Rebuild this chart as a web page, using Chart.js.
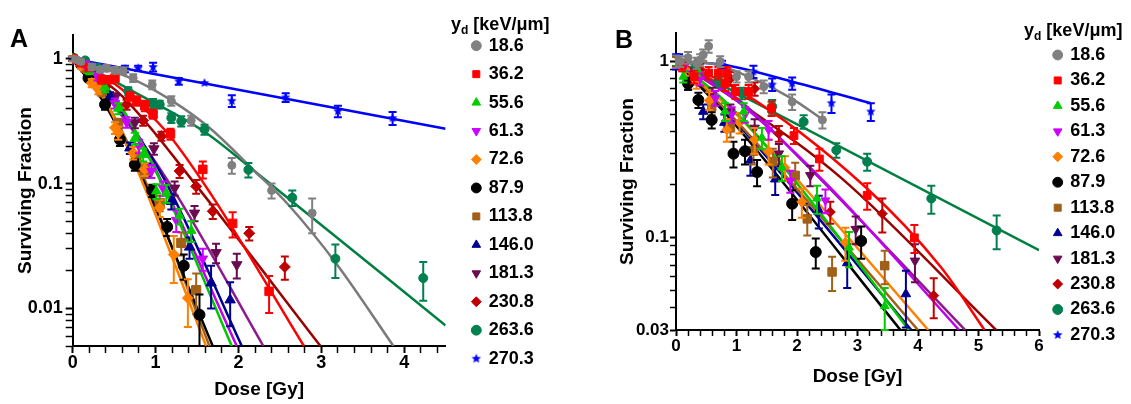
<!DOCTYPE html>
<html lang="en">
<head>
<meta charset="UTF-8">
<title>Surviving fraction vs dose</title>
<script src="https://cdn.jsdelivr.net/npm/chart.js"></script>
<style>
  body { margin: 0; background: #fff; }
  #wrap { position: relative; width: 1131px; height: 404px; background: #fff; font-family: 'Liberation Sans', Arial, sans-serif; font-weight: bold; color: #000; }
  canvas { position: absolute; top: 0; }
  .panel { position: absolute; font-size: 25px; line-height: 25px; }
  .ytitle { position: absolute; font-size: 18px; line-height: 18px; white-space: nowrap; }
  .ytitle sub { font-size: 12px; line-height: 0; vertical-align: -4px; }
</style>
</head>
<body>
<div id="wrap">
  <canvas id="chartA" width="560" height="404" style="left:0"></canvas>
  <canvas id="chartB" width="551" height="404" style="left:580px"></canvas>
  <div class="panel" style="left:10px;top:26px">A</div>
  <div class="panel" style="left:615px;top:27px">B</div>
  <div class="ytitle" style="left:451px;top:15px">y<sub>d</sub> [keV/μm]</div>
  <div class="ytitle" style="left:1024px;top:21px">y<sub>d</sub> [keV/μm]</div>
</div>

<script>
// lineal energy of each series (legend)
const ydLabels = ['18.6', '36.2', '55.6', '61.3', '72.6', '87.9', '113.8', '146.0', '181.3', '230.8', '263.6', '270.3'];
const markerColors = ['#808080', '#ff0000', '#00cc00', '#cc00ff', '#ff8000', '#000000', '#a0601a', '#000090', '#6a0a50', '#c00000', '#00804f', '#0000ff'];
const lineColors = ['#7a7a7a', '#ff0000', '#00c800', '#c000f0', '#ff8000', '#000000', '#a0601a', '#000090', '#8e1a8e', '#990000', '#008040', '#0000ff'];
const markerStyles = ['circle', 'rect', 'triangle', 'triangle', 'rectRot', 'circle', 'rect', 'triangle', 'triangle', 'rectRot', 'circle', 'star'];
const markerRotation = [0, 0, 0, 180, 0, 0, 0, 0, 180, 0, 0, 0];

// ---- panel A : dose [Gy], surviving fraction, error ----
const doseA = [
  [0, 0.05, 0.1, 0.23, 0.33, 0.41, 0.51, 0.61, 0.73, 0.96, 1.19, 1.43, 1.92, 2.40, 2.89],
  [0, 0.1, 0.2, 0.35, 0.45, 0.51, 0.69, 0.77, 0.87, 0.97, 1.18, 1.57, 1.93, 2.37],
  [0, 0.1, 0.2, 0.39, 0.55, 0.75, 0.85, 1.01, 1.13, 1.29, 1.43],
  [0, 0.15, 0.3, 0.51, 0.65, 0.80, 0.95, 1.09, 1.25, 1.57],
  [0, 0.1, 0.23, 0.31, 0.51, 0.55, 0.73, 0.87, 1.05, 1.22, 1.39],
  [0, 0.1, 0.19, 0.39, 0.57, 0.75, 0.96, 1.14, 1.34, 1.53],
  [0, 0.15, 0.35, 0.55, 0.77, 0.87, 1.05, 1.31, 1.49],
  [0, 0.2, 0.45, 0.69, 0.9, 1.19, 1.41, 1.67, 1.90],
  [0, 0.25, 0.51, 0.75, 0.98, 1.23, 1.47, 1.73, 1.98],
  [0, 0.2, 0.4, 0.65, 0.85, 1.07, 1.29, 1.49, 1.69, 2.13, 2.56],
  [0, 0.15, 0.3, 0.67, 0.97, 1.05, 1.19, 1.31, 1.59, 2.12, 2.65, 3.17, 4.23],
  [0, 0.63, 0.79, 0.97, 1.28, 1.59, 1.92, 2.57, 3.20, 3.86]
];
const sfA = [
  [1.0, 0.98, 0.95, 0.86, 0.82, 0.84, 0.81, 0.80, 0.70, 0.62, 0.46, 0.32, 0.14, 0.088, 0.058],
  [1.0, 0.93, 0.85, 0.68, 0.68, 0.70, 0.50, 0.46, 0.42, 0.36, 0.25, 0.13, 0.048, 0.0137],
  [1.0, 0.92, 0.80, 0.59, 0.40, 0.23, 0.17, 0.087, 0.084, 0.055, 0.042],
  [1.0, 0.90, 0.72, 0.44, 0.31, 0.20, 0.126, 0.092, 0.051, 0.025],
  [1.0, 0.88, 0.64, 0.57, 0.28, 0.255, 0.176, 0.13, 0.064, 0.027, 0.0121],
  [1.0, 0.90, 0.70, 0.43, 0.225, 0.142, 0.088, 0.045, 0.022, 0.0089],
  [1.0, 0.85, 0.55, 0.30, 0.16, 0.126, 0.07, 0.0335, 0.014],
  [1.0, 0.82, 0.50, 0.193, 0.13, 0.072, 0.031, 0.016, 0.0117],
  [1.0, 0.75, 0.49, 0.307, 0.19, 0.092, 0.058, 0.028, 0.0224],
  [1.0, 0.85, 0.60, 0.43, 0.32, 0.24, 0.126, 0.095, 0.060, 0.040, 0.0215],
  [1.0, 0.97, 0.85, 0.55, 0.435, 0.43, 0.336, 0.316, 0.271, 0.129, 0.077, 0.025, 0.0175],
  [1.0, 0.83, 0.84, 0.86, 0.66, 0.64, 0.46, 0.49, 0.38, 0.335]
];
const errA = [
  [0.04, 0.03, 0.04, 0.05, 0.04, 0.05, 0.05, 0.05, 0.05, 0.05, 0.04, 0.03, 0.02, 0.012, 0.018],
  [0.04, 0.05, 0.05, 0.05, 0.04, 0.05, 0.04, 0.04, 0.04, 0.03, 0.025, 0.02, 0.011, 0.0045],
  [0.04, 0.05, 0.05, 0.05, 0.04, 0.025, 0.02, 0.012, 0.014, 0.008, 0.008],
  [0.04, 0.05, 0.05, 0.04, 0.03, 0.025, 0.015, 0.012, 0.01, 0.005],
  [0.05, 0.05, 0.05, 0.05, 0.03, 0.03, 0.02, 0.015, 0.01, 0.011, 0.005],
  [0.03, 0.04, 0.04, 0.04, 0.025, 0.015, 0.01, 0.007, 0.005, 0.004],
  [0.04, 0.05, 0.05, 0.03, 0.02, 0.015, 0.01, 0.007, 0.005],
  [0.04, 0.05, 0.04, 0.02, 0.015, 0.01, 0.006, 0.006, 0.0045],
  [0.04, 0.05, 0.04, 0.03, 0.02, 0.012, 0.008, 0.005, 0.005],
  [0.04, 0.05, 0.05, 0.04, 0.03, 0.02, 0.015, 0.012, 0.008, 0.005, 0.0045],
  [0.04, 0.04, 0.05, 0.04, 0.04, 0.03, 0.03, 0.03, 0.025, 0.017, 0.011, 0.0075, 0.006],
  [0.03, 0.05, 0.04, 0.07, 0.04, 0, 0.05, 0.04, 0.04, 0.04]
];
// fitted curves
const fitDoseA = [
  [0, 0.7, 1.2, 1.65, 2.2, 2.6, 3.2, 3.87],
  [0, 0.39, 1.11, 1.67, 2.79],
  [0, 0.5, 1.05, 1.92],
  [0, 0.5, 1.0, 1.98],
  [0, 0.4, 0.83, 1.61],
  [0, 0.4, 0.85, 1.69],
  [0, 0.4, 0.85, 1.65],
  [0, 0.5, 1.1, 2.04],
  [0, 0.5, 1.17, 2.30],
  [0, 0.6, 1.5, 2.99],
  [0, 0.7, 1.59, 2.2, 4.5],
  [0, 4.5]
];
const fitSfA = [
  [1, 0.70, 0.46, 0.28, 0.125, 0.068, 0.022, 0.005],
  [1, 0.72, 0.27, 0.082, 0.005],
  [1, 0.5, 0.108, 0.005],
  [1, 0.48, 0.13, 0.005],
  [1, 0.45, 0.107, 0.005],
  [1, 0.42, 0.107, 0.005],
  [1, 0.45, 0.115, 0.005],
  [1, 0.45, 0.11, 0.005],
  [1, 0.42, 0.10, 0.005],
  [1, 0.5, 0.095, 0.005],
  [1, 0.56, 0.26, 0.125, 0.0073],
  [1, 0.275]
];

// ---- panel B ----
const doseB = [
  [0, 0.07, 0.2, 0.34, 0.4, 0.45, 0.54, 0.73, 1.0, 1.2, 1.45, 1.92, 2.42],
  [0, 0.1, 0.3, 0.54, 0.70, 0.81, 0.84, 0.98, 1.2, 1.58, 1.95, 2.37, 3.16, 3.94],
  [0, 0.12, 0.35, 0.81, 1.12, 1.42, 1.75, 2.33, 2.86, 3.45],
  [0, 0.15, 0.4, 0.65, 0.92, 1.14, 1.53, 1.89, 2.47],
  [0, 0.15, 0.34, 0.55, 0.84, 1.05, 1.3, 1.53, 1.8, 2.08, 2.80],
  [0, 0.2, 0.37, 0.59, 0.95, 1.14, 1.34, 1.92, 2.31, 3.06],
  [0, 0.04, 0.3, 0.59, 0.9, 1.28, 1.6, 1.97, 2.17, 2.58, 3.45],
  [0, 0.2, 0.45, 0.8, 1.23, 1.64, 2.36, 2.83, 3.80],
  [0, 0.3, 0.6, 0.9, 1.3, 1.7, 2.22, 2.97, 3.95],
  [0, 0.4, 0.9, 1.3, 1.70, 2.55, 3.41, 4.26],
  [0, 0.3, 0.7, 1.09, 1.59, 2.11, 2.65, 3.16, 4.22, 5.30],
  [0, 0.05, 0.37, 0.76, 1.28, 1.59, 1.92, 2.57, 3.22]
];
const sfB = [
  [1.0, 1.0, 1.05, 0.98, 1.02, 1.09, 1.22, 1.0, 0.82, 0.82, 0.72, 0.59, 0.466],
  [1.0, 0.95, 0.82, 0.86, 0.86, 0.75, 0.86, 0.675, 0.675, 0.54, 0.38, 0.28, 0.174, 0.10],
  [1.0, 0.82, 0.90, 0.52, 0.52, 0.37, 0.25, 0.167, 0.088, 0.041],
  [1.0, 0.95, 0.80, 0.62, 0.50, 0.50, 0.41, 0.21, 0.163],
  [1.0, 0.90, 0.77, 0.60, 0.41, 0.45, 0.36, 0.31, 0.25, 0.16, 0.094],
  [1.0, 0.75, 0.605, 0.466, 0.30, 0.31, 0.236, 0.156, 0.083, 0.096],
  [1.0, 0.98, 0.80, 0.555, 0.42, 0.31, 0.27, 0.226, 0.128, 0.064, 0.0695],
  [1.0, 0.75, 0.52, 0.45, 0.275, 0.215, 0.143, 0.072, 0.048],
  [1.0, 0.85, 0.65, 0.52, 0.42, 0.30, 0.226, 0.112, 0.074],
  [1.0, 0.90, 0.80, 0.70, 0.39, 0.14, 0.137, 0.047],
  [1.0, 0.90, 0.78, 0.66, 0.555, 0.455, 0.314, 0.27, 0.167, 0.11],
  [1.0, 1.02, 0.98, 0.96, 0.877, 0.74, 0.75, 0.58, 0.52]
];
const errB = [
  [0.08, 0.07, 0.08, 0.07, 0.08, 0.08, 0.1, 0.07, 0.06, 0.06, 0.06, 0.06, 0.05],
  [0.07, 0.07, 0.07, 0.07, 0.07, 0.07, 0.07, 0.06, 0.06, 0.05, 0.04, 0.04, 0.03, 0.018],
  [0.06, 0.06, 0.07, 0.06, 0.06, 0.05, 0.04, 0.03, 0.02, 0.011],
  [0.07, 0.07, 0.07, 0.06, 0.05, 0.05, 0.05, 0.03, 0.025],
  [0.07, 0.07, 0.07, 0.07, 0.06, 0.06, 0.06, 0.05, 0.04, 0.03, 0.02],
  [0.06, 0.06, 0.06, 0.05, 0.05, 0.05, 0.04, 0.03, 0.016, 0.02],
  [0.06, 0.06, 0.06, 0.06, 0.05, 0.05, 0.05, 0.04, 0.025, 0.014, 0.015],
  [0.06, 0.06, 0.05, 0.05, 0.05, 0.04, 0.03, 0.02, 0.017],
  [0.06, 0.06, 0.06, 0.05, 0.05, 0.04, 0.03, 0.02, 0.018],
  [0.06, 0.07, 0.07, 0.06, 0.04, 0.02, 0.03, 0.012],
  [0.06, 0.06, 0.06, 0.05, 0.05, 0.04, 0.03, 0.03, 0.03, 0.024],
  [0.1, 0.08, 0.05, 0.05, 0.07, 0.06, 0.06, 0.07, 0.06]
];
const fitDoseB = [
  [0, 0.6, 1.2, 1.9, 2.42],
  [0, 1.03, 3.13, 4.38, 5.10],
  [0, 0.8, 1.75, 3.85],
  [0, 1.0, 2.5, 4.68],
  [0, 1.0, 2.08, 4.17],
  [0, 0.9, 3.71],
  [0, 0.9, 4.0],
  [0, 1.0, 3.89],
  [0, 1.0, 2.2, 4.78],
  [0, 1.0, 2.72, 5.29],
  [0, 6],
  [0, 0.76, 2.03, 3.22]
];
const fitSfB = [
  [1, 0.97, 0.82, 0.62, 0.47],
  [1, 0.69, 0.194, 0.068, 0.03],
  [1, 0.6, 0.26, 0.03],
  [1, 0.6, 0.2, 0.03],
  [1, 0.5, 0.2, 0.03],
  [1, 0.47, 0.03],
  [1, 0.5, 0.03],
  [1, 0.45, 0.03],
  [1, 0.62, 0.25, 0.03],
  [1, 0.6, 0.22, 0.03],
  [1, 0.085],
  [1, 0.96, 0.75, 0.58]
];

// axis ticks
const xTicksA = [0, 0.2, 0.4, 0.6, 0.8, 1, 1.2, 1.4, 1.6, 1.8, 2, 2.2, 2.4, 2.6, 2.8, 3, 3.2, 3.4, 3.6, 3.8, 4, 4.2, 4.4];
const xMajorA = [0, 1, 2, 3, 4];
const xTicksB = [0, 0.2, 0.4, 0.6, 0.8, 1, 1.2, 1.4, 1.6, 1.8, 2, 2.2, 2.4, 2.6, 2.8, 3, 3.2, 3.4, 3.6, 3.8, 4, 4.2, 4.4, 4.6, 4.8, 5, 5.2, 5.4, 5.6, 5.8, 6];
const xMajorB = [0, 1, 2, 3, 4, 5, 6];
const yTicksA = [0.005, 0.006, 0.007, 0.008, 0.009, 0.01, 0.02, 0.03, 0.04, 0.05, 0.06, 0.07, 0.08, 0.09, 0.1, 0.2, 0.3, 0.4, 0.5, 0.6, 0.7, 0.8, 0.9, 1];
const yMajorA = [0.01, 0.1, 1];
const yTicksB = [0.03, 0.04, 0.05, 0.06, 0.07, 0.08, 0.09, 0.1, 0.2, 0.3, 0.4, 0.5, 0.6, 0.7, 0.8, 0.9, 1];
const yMajorB = [0.03, 0.1, 1];

Chart.defaults.font.family = "'Liberation Sans', Arial, sans-serif";
Chart.defaults.font.weight = 'bold';
Chart.defaults.color = '#000';

function starMarker(r, color) {
  const c = document.createElement('canvas');
  c.width = c.height = Math.ceil(r * 2 + 2);
  const g = c.getContext('2d');
  const m = c.width / 2;
  g.beginPath();
  for (let k = 0; k < 10; k++) {
    const a = -Math.PI / 2 + k * Math.PI / 5;
    const rr = k % 2 ? r * 0.45 : r;
    g.lineTo(m + rr * Math.cos(a), m + rr * Math.sin(a));
  }
  g.closePath();
  g.fillStyle = color;
  g.fill();
  return c;
}

// vertical error bars with caps, drawn under each scatter series
const errorBars = {
  id: 'errorBars',
  beforeDatasetDraw(chart, args) {
    const ds = chart.data.datasets[args.index];
    if (!ds.errors) return;
    const {ctx, chartArea} = chart;
    const xs = chart.scales.x, ys = chart.scales.y;
    ctx.save();
    ctx.strokeStyle = ds.borderColor;
    ctx.lineWidth = 2;
    ds.data.forEach((p, i) => {
      const e = ds.errors[i];
      if (!e) return;
      const px = xs.getPixelForValue(p.x);
      let top = ys.getPixelForValue(p.y + e);
      let bot = p.y - e > 0 ? ys.getPixelForValue(p.y - e) : chartArea.bottom + 1;
      const capTop = top >= chartArea.top, capBot = bot <= chartArea.bottom;
      top = Math.max(top, chartArea.top);
      bot = Math.min(bot, chartArea.bottom);
      ctx.beginPath();
      ctx.moveTo(px, top); ctx.lineTo(px, bot);
      if (capTop) { ctx.moveTo(px - 4, top); ctx.lineTo(px + 4, top); }
      if (capBot) { ctx.moveTo(px - 4, bot); ctx.lineTo(px + 4, bot); }
      ctx.stroke();
    });
    ctx.restore();
  }
};

function buildDatasets(dose, sf, err, fitDose, fitSf, radius) {
  const sets = [];
  ydLabels.forEach((lab, i) => {
    sets.push({
      type: 'scatter',
      label: lab,
      data: dose[i].map((d, j) => ({x: d, y: sf[i][j]})),
      errors: err[i],
      backgroundColor: markerColors[i],
      borderColor: markerColors[i],
      pointStyle: markerStyles[i] === 'star' ? starMarker(radius[i], markerColors[i]) : markerStyles[i],
      pointRotation: markerRotation[i],
      pointRadius: radius[i],
      pointBorderWidth: 1,
      xAxisID: 'x', yAxisID: 'y',
      order: 0
    });
  });
  ydLabels.forEach((lab, i) => {
    sets.push({
      type: 'line',
      label: lab + ' fit',
      isFit: true,
      data: fitDose[i].map((d, j) => ({x: d, y: fitSf[i][j]})),
      borderColor: lineColors[i],
      borderWidth: 2.5,
      pointRadius: 0,
      fill: false,
      cubicInterpolationMode: 'monotone',
      xAxisID: 'x', yAxisID: 'y',
      order: 1
    });
  });
  return sets;
}

function makePanel(id, p) {
  const axisGrid = (majors) => ({
    drawOnChartArea: false, color: '#000', tickLength: p.tickLen,
    tickWidth: c => (c.tick && majors.includes(c.tick.value)) ? 2 : 1.5
  });
  new Chart(document.getElementById(id), {
    type: 'scatter',
    data: {datasets: buildDatasets(p.dose, p.sf, p.err, p.fitDose, p.fitSf, p.radius)},
    options: {
      responsive: false,
      animation: false,
      events: [],
      layout: {padding: p.padding},
      scales: {
        x: {
          type: 'linear', position: 'bottom', min: 0, max: p.xMax,
          afterBuildTicks: s => { s.ticks = p.xTicks.map(v => ({value: v})); },
          afterFit: s => { s.height = p.xHeight; },
          ticks: {autoSkip: false, maxRotation: 0, padding: p.xPad, font: {size: p.tickFont},
                  callback: v => p.xMajor.includes(v) ? String(v) : ''},
          grid: axisGrid(p.xMajor),
          border: {color: '#000', width: 2},
          title: {display: true, text: 'Dose [Gy]', font: {size: 19}, padding: {top: 4, bottom: 0}}
        },
        y: {
          type: 'logarithmic', position: 'left', min: p.yMin, max: p.yMax,
          afterBuildTicks: s => { s.ticks = p.yTicks.map(v => ({value: v})); },
          afterFit: s => { s.width = p.yWidth; },
          ticks: {autoSkip: false, padding: p.yPad, font: {size: p.tickFont},
                  callback: v => p.yMajor.includes(v) ? String(v) : ''},
          grid: axisGrid(p.yMajor),
          border: {color: '#000', width: 2},
          title: {display: true, text: 'Surviving Fraction', font: {size: 19}, padding: {top: 4, bottom: 4}}
        },
        topGap: {
          axis: 'x', type: 'linear', position: 'top', display: true,
          grid: {display: false}, border: {display: false}, ticks: {display: false},
          afterFit: s => { s.height = p.topGap; }
        },
        rightGap: {
          axis: 'y', type: 'linear', position: 'right', display: true,
          grid: {display: false}, border: {display: false}, ticks: {display: false},
          afterFit: s => { s.width = p.rightGap; }
        }
      },
      plugins: {
        tooltip: {enabled: false},
        legend: {
          position: 'right',
          align: 'start',
          maxWidth: 300,
          title: {display: true, text: ' ', font: {size: 10}, padding: {top: p.legendTitlePad, bottom: 0}},
          labels: {
            usePointStyle: true, boxWidth: 7, boxHeight: 7,
            padding: p.legendPad, color: '#000', font: {size: 18, weight: 'bold'},
            filter: (item, data) => !data.datasets[item.datasetIndex].isFit
          }
        }
      }
    },
    plugins: [errorBars]
  });
}

makePanel('chartA', {
  dose: doseA, sf: sfA, err: errA, fitDose: fitDoseA, fitSf: fitSfA,
  radius: [4, 6, 5.5, 5.5, 5.5, 5.5, 6.5, 6, 6, 5.5, 4.5, 5],
  xMax: 4.5, xTicks: xTicksA, xMajor: xMajorA,
  yMin: 0.005, yMax: 1.55, yTicks: yTicksA, yMajor: yMajorA,
  padding: {left: 10.6, top: 10, right: 16.15, bottom: 2.6},
  yWidth: 62.1, xHeight: 55.4, topGap: 25, rightGap: 16.75,
  tickLen: 7, xPad: -1, yPad: 3, tickFont: 18,
  legendPad: 10.45, legendTitlePad: 4.25
});

makePanel('chartB', {
  dose: doseB, sf: sfB, err: errB, fitDose: fitDoseB, fitSf: fitSfB,
  radius: [4, 5.5, 5, 5, 5, 5.5, 6, 5.5, 5.5, 5, 4.5, 5],
  xMax: 6, xTicks: xTicksB, xMajor: xMajorB,
  yMin: 0.03, yMax: 1.45, yTicks: yTicksB, yMajor: yMajorB,
  padding: {left: 32.6, top: 10, right: 5.75, bottom: 15.6},
  yWidth: 63.4, xHeight: 58.4, topGap: 23, rightGap: 7.75,
  tickLen: 6, xPad: 0, yPad: 1, tickFont: 17,
  legendPad: 7.45, legendTitlePad: 16.55
});
</script>
</body>
</html>
